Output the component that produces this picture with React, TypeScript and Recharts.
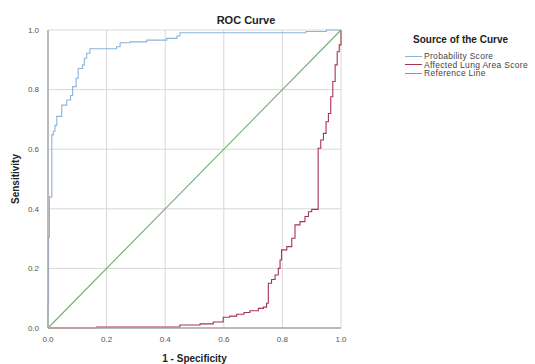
import { LineChart, Line, XAxis, YAxis, CartesianGrid, Label } from "recharts";

// 1 - specificity / sensitivity points (rise positions)
const probFpr = [0, 0, 0.002, 0.005, 0.013, 0.018, 0.024, 0.03, 0.047, 0.064, 0.077, 0.084, 0.096, 0.103, 0.118, 0.124, 0.132, 0.143, 0.234, 0.246, 0.28, 0.337, 0.405, 0.44, 0.45, 0.88, 0.95, 1];
const probTpr = [0, 0.084, 0.305, 0.44, 0.648, 0.66, 0.68, 0.71, 0.748, 0.765, 0.78, 0.81, 0.838, 0.871, 0.883, 0.905, 0.922, 0.937, 0.944, 0.957, 0.96, 0.966, 0.972, 0.98, 0.991, 0.995, 1, 1];

const lungFpr = [0, 0.166, 0.45, 0.519, 0.564, 0.598, 0.62, 0.644, 0.669, 0.689, 0.718, 0.735, 0.746, 0.752, 0.763, 0.775, 0.786, 0.792, 0.797, 0.815, 0.832, 0.843, 0.86, 0.877, 0.889, 0.9, 0.922, 0.931, 0.94, 0.949, 0.957, 0.965, 0.972, 0.98, 0.987, 0.994, 1];
const lungTpr = [0, 0.003, 0.01, 0.014, 0.02, 0.036, 0.04, 0.046, 0.052, 0.058, 0.066, 0.07, 0.083, 0.15, 0.163, 0.178, 0.2, 0.228, 0.262, 0.273, 0.301, 0.346, 0.357, 0.374, 0.39, 0.398, 0.603, 0.631, 0.653, 0.692, 0.72, 0.776, 0.827, 0.883, 0.927, 0.95, 1];

const refFpr = [0, 1];
const refTpr = [0, 1];

const ticks = [0, 0.2, 0.4, 0.6, 0.8, 1.0];

const seriesNames = ["Probability Score", "Affected Lung Area Score", "Reference Line"];
const seriesColors = ["#8cb3dc", "#a8344f", "#72ad72"];

const toPoints = (xs: number[], ys: number[]) => xs.map((x, i) => ({ x, y: ys[i] }));

const FONT = "'Liberation Sans', Arial, sans-serif";

export default function App() {
  const lines = [
    { data: toPoints(probFpr, probTpr), type: "stepAfter" as const },
    { data: toPoints(lungFpr, lungTpr), type: "stepAfter" as const },
    { data: toPoints(refFpr, refTpr), type: "linear" as const },
  ];

  return (
    <div style={{ position: "absolute", left: 0, top: 0, width: 535, height: 364, background: "#fff", fontFamily: FONT }}>
      <div style={{ position: "absolute", left: 196, top: 14, width: 100, textAlign: "center", fontSize: 11, fontWeight: "bold", color: "#222" }}>
        ROC Curve
      </div>

      <LineChart width={535} height={364} margin={{ top: 30, right: 194, bottom: 16, left: 18 }}>
        <CartesianGrid stroke="#d8d8d8" strokeWidth={1} horizontalValues={ticks} verticalValues={ticks} />
        <XAxis
          dataKey="x"
          type="number"
          domain={[0, 1]}
          ticks={ticks}
          tickFormatter={(v: number) => v.toFixed(1)}
          tick={{ fontSize: 8, fill: "#555", fontFamily: FONT }}
          tickLine={false}
          axisLine={{ stroke: "#aaa", strokeWidth: 1.5 }}
          height={20}
          tickMargin={2}
        >
          <Label value="1 - Specificity" position="insideBottom" offset={-14} style={{ fontSize: 10, fontWeight: "bold", fill: "#222", fontFamily: FONT }} />
        </XAxis>
        <YAxis
          dataKey="y"
          type="number"
          domain={[0, 1]}
          ticks={ticks}
          tickFormatter={(v: number) => v.toFixed(1)}
          tick={{ fontSize: 8, fill: "#555", fontFamily: FONT }}
          tickLine={false}
          axisLine={{ stroke: "#aaa", strokeWidth: 1.5 }}
          width={30}
          tickMargin={3}
        >
          <Label value="Sensitivity" angle={-90} position="insideLeft" offset={-3} style={{ fontSize: 10, fontWeight: "bold", fill: "#222", fontFamily: FONT, textAnchor: "middle" }} />
        </YAxis>
        {lines.map((l, i) => (
          <Line
            key={seriesNames[i]}
            data={l.data}
            dataKey="y"
            type={l.type}
            stroke={seriesColors[i]}
            strokeWidth={1.1}
            dot={false}
            isAnimationActive={false}
          />
        ))}
      </LineChart>

      {/* Legend */}
      <div style={{ position: "absolute", left: 405, top: 34 }}>
        <div style={{ fontSize: 10, fontWeight: "bold", color: "#222", marginLeft: 8, marginBottom: 6, lineHeight: "12px" }}>Source of the Curve</div>
        {seriesNames.map((name, i) => (
          <div key={name} style={{ display: "flex", alignItems: "center", height: 8.5 }}>
            <div style={{ width: 17, height: 1, background: seriesColors[i], marginRight: 2 }} />
            <span style={{ fontSize: 8.5, color: "#444", lineHeight: "8.5px", letterSpacing: 0.3 }}>{name}</span>
          </div>
        ))}
      </div>
    </div>
  );
}
